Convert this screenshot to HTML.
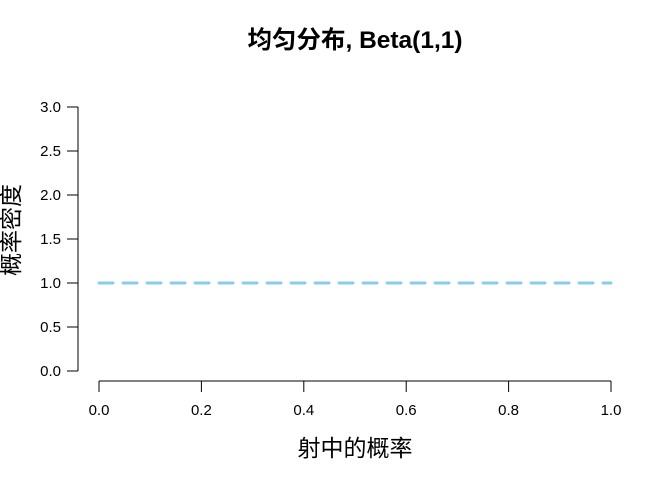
<!DOCTYPE html>
<html><head><meta charset="utf-8">
<style>
html,body{margin:0;padding:0;background:#fff;}
svg text{font-family:"Liberation Sans","Noto Sans CJK SC",sans-serif;fill:#000;}
</style></head>
<body>
<svg id="chart" width="672" height="480" xmlns="http://www.w3.org/2000/svg">
<text x="355" y="48" text-anchor="middle" font-size="24.5" font-weight="bold">均匀分布, Beta(1,1)</text>
<text x="355" y="456" text-anchor="middle" font-size="23">射中的概率</text>
<text transform="translate(19,230) rotate(-90)" text-anchor="middle" font-size="23">概率密度</text>
<g id="axes"></g>
<g id="series"></g>
</svg>
<script>
const xTicks = [0, 0.2, 0.4, 0.6, 0.8, 1.0];
const xTickLabels = ["0.0","0.2","0.4","0.6","0.8","1.0"];
const yTicks = [0, 0.5, 1, 1.5, 2, 2.5, 3];
const yTickLabels = ["0.0","0.5","1.0","1.5","2.0","2.5","3.0"];
const seriesX = [0, 1];
const seriesY = [1, 1];

const NS = "http://www.w3.org/2000/svg";
const xs = v => 99 + v * 512;
const ys = v => 371 - v * 88;
function mk(tag, attrs, parent){const e=document.createElementNS(NS,tag);for(const k in attrs)e.setAttribute(k,attrs[k]);parent.appendChild(e);return e;}
const axes = document.getElementById('axes');
const xa = mk('line',{x1:xs(0),x2:xs(1),y1:381,y2:381,stroke:'#000','stroke-width':1},axes);


xTicks.forEach((t,i)=>{
  const l = mk('line',{x1:xs(t),x2:xs(t),y1:381,y2:392,stroke:'#000','stroke-width':1},axes);
  
  
  const tx = mk('text',{x:xs(t),y:415,'text-anchor':'middle','font-size':15},axes);
  tx.textContent = xTickLabels[i];
  
  
});
const ya = mk('line',{x1:78,x2:78,y1:ys(0),y2:ys(3),stroke:'#000','stroke-width':1},axes);


yTicks.forEach((t,i)=>{
  const l = mk('line',{x1:67,x2:78,y1:ys(t),y2:ys(t),stroke:'#000','stroke-width':1},axes);
  
  
  const tx = mk('text',{x:61,y:ys(t)+5,'text-anchor':'end','font-size':15},axes);
  tx.textContent = yTickLabels[i];
  
  
});
const series = document.getElementById('series');
const pts = seriesX.map((x,i)=>xs(x)+','+ys(seriesY[i])).join(' ');
const pl = mk('polyline',{points:pts,fill:'none',stroke:'#87CEEB','stroke-width':3,'stroke-dasharray':'14 10','stroke-linecap':'round'},series);


</script>
</body></html>
